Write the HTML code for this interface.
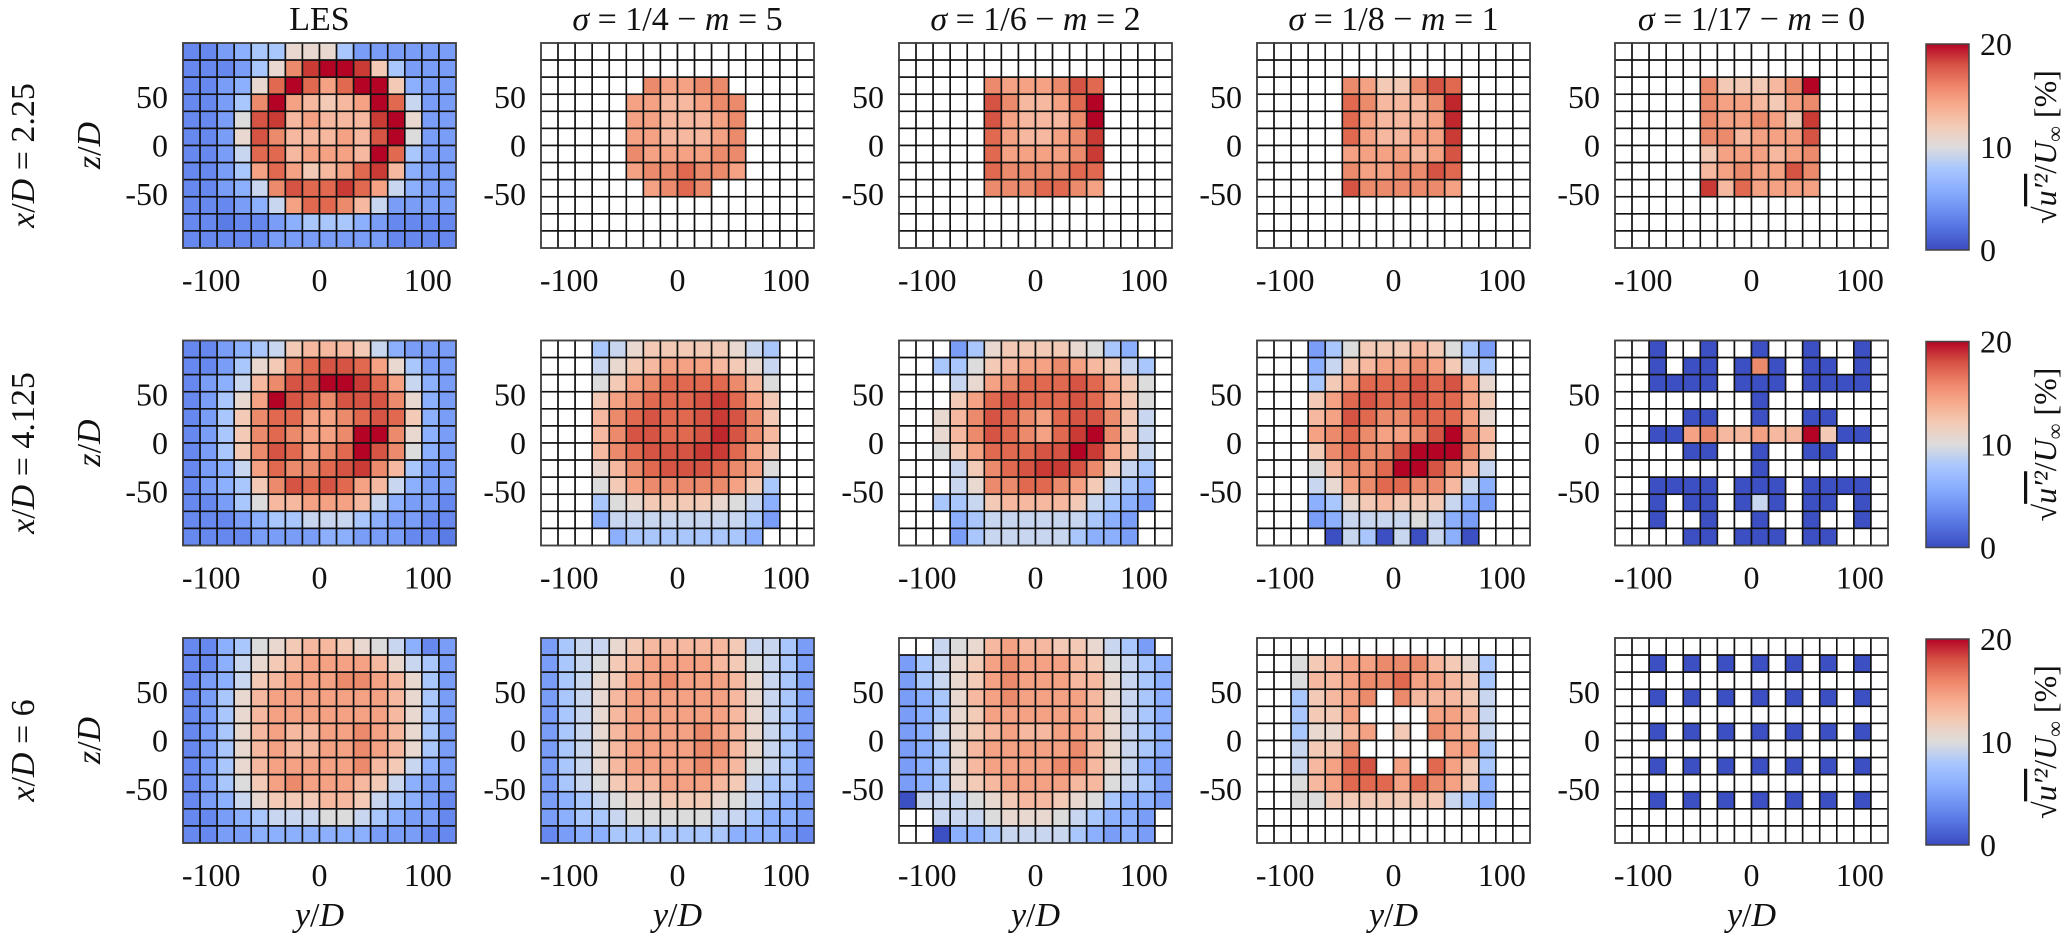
<!DOCTYPE html>
<html><head><meta charset="utf-8">
<style>
html,body{margin:0;padding:0;background:#fff;}
svg{display:block;font-family:"Liberation Serif",serif;}
</style></head>
<body>
<svg id="fig" width="2067" height="938" viewBox="0 0 2067 938" xmlns="http://www.w3.org/2000/svg">
<defs>
<linearGradient id="cmap" x1="0" y1="1" x2="0" y2="0">
<stop offset="0" stop-color="#3b4cc0"/><stop offset="0.1" stop-color="#5470de"/><stop offset="0.2" stop-color="#6f92f3"/>
<stop offset="0.3" stop-color="#8db0fe"/><stop offset="0.4" stop-color="#aac7fd"/><stop offset="0.5" stop-color="#dddcdc"/>
<stop offset="0.6" stop-color="#f2cbb7"/><stop offset="0.7" stop-color="#f7ac8e"/><stop offset="0.8" stop-color="#ee8468"/>
<stop offset="0.9" stop-color="#d65244"/><stop offset="1" stop-color="#b40426"/>
</linearGradient>
</defs>
<g id="plots"></g>
</svg>
<script>
// value code: '.' = no data, '0'..'9','A'..'K' = 0..20 %
const codes = "0123456789ABCDEFGHIJK";
const colTitles = ["LES","σ = 1/4 − m = 5","σ = 1/6 − m = 2","σ = 1/8 − m = 1","σ = 1/17 − m = 0"];
const rowLabels = ["2.25","4.125","6"];
const xTicks = [-100,0,100];
const zTicks = [50,0,-50];
const cbTicks = [0,10,20];

const r1_les = ["556788BBB8666666","55568BFIKKIC8666","5567BGKGEGKKC766","5568FKEDCDEKG966","556AHIDEDDDIKB66","556BHFDDDEDHKA66","5569GGDEEEDKG866","5568EGECDEGID766","55679FHGGIGE9766","555679EGGFD96666","5545567888765555","5555566666665555"];
const r1_s4 = ["................","................","......FEEFF.....",".....EEDDEFF....",".....EEDDDEF....",".....EEDDDEF....",".....FEEEEFF....",".....EFFGFFE....","......EFGF......","................","................","................"];
const r1_s6 = ["................","................",".....FEEEFHG....",".....HFDDEGK....",".....HEDDDFK....",".....GEDDEFI....",".....GEEEEFI....",".....GFFFFGG....",".....FFFGGFE....","................","................","................"];
const r1_s8 = ["................","................",".....FECCFHG....",".....GFDDDFJ....",".....GEDDDEJ....",".....GEDDEEI....",".....EEEEDEH....",".....FEEFFHG....",".....HFFFFFE....","................","................","................"];
const r1_s17 = ["................","................",".....FCCCDFK....",".....FEEDCEF....",".....FEEFECI....",".....FFDEEEH....",".....CEEEDEF....",".....DEFEEHF....",".....IDGEEEE....","................","................","................"];

const r2_les = ["556789CDDDC97666","5568BCFGHHGEB866","5679DFHHKKIGE976","568BEKHGFHHHFB76","568CFGGEEFGHGC76","568CFGFEEFKKFB76","568CFHGEFGKHFA76","5679EGFFGHIFD866","5678CFHGHGED9766","5568ADDEEED97665","5556788999876655","5555666677666554"];
const r2_s4 = ["...89BCCCCCB98..","...9BCDEEEDCB9..","...ACEFGGGGFDA..","...CEFGGGHIGEC..","...DFGHGGHIHFC..","...DFHHGGHJHFD..","...DFGHHHIIGEC..","...BDFGHHHGFEA..","...ACEFFFFFEC8..","...8ABCCCCBA97..","...79999999986..","....788888887..."];
const r2_s6 = ["...68BCCCCBA87..","..88ACDEEFEDC98.","...9BEFGGGHGECA.","...CEGHGGGHGECA.","..BDFHGFEGHHFC9.","..BDFHGFEGIKFC9.","..ACEGGGHHKIEC9.","...9CFGHIIHFC98.","...9BFFGGFEC987.","..889CDDDDC9876.","...78999999876..","...68999998776.."];
const r2_s8 = ["...68ACCCDCA86..","...79CDEEFEC98..","...8CEGGGHGHEB..","...CEGHGGHGGEC..","...DEHGFFGGGEB..","...EFGFEEFHKFD..","...CFGFFHKKKFC..","...ADFFGKKHFD9..","...9BEFGGFFD97..","...78BCDCCC976..","...679999A976...","....198191971..."];
const r2_s17 = ["..1..1..1..1..1.","..1.11.1F1.11.1.","..1111.111.1111.","........1.......","....11..1..11...","..11EFDDEDDKC11.","....11..1..11...","........1.......","..1111.111.1111.","..1.11.191.11.1.","..1..1..1..1..1.","....11.111.11..."];

const r3_les = ["5578ABCDDCBA9756","5579BCDEEEEDB986","5679CDEEEFFEDB86","568BDEEEEEEEDB86","568BDEEEEEEEDB86","568BDEDDEEFEDB86","568BDEDDEEFEDB86","568BDEEEEEFDC976","568ACEFEEEDC9766","5679BCCCDDC98765","55678999AA987665","5566777777766655"];
const r3_s4 = ["6899BCDDDDDC9986","689ACDEEEEDCA986","689BCEEFEEEDB986","689BDEEEEEEDB986","689BDEEEEEEDB986","689BDEEEEFEDB986","689BDEEEEFFDB986","689BDEEEEFEDA986","689ACDDEEEDC9886","6789ABBCCCBA9876","67889AAAAA998776","5677888888877765"];
const r3_s6 = ["..9ABDEDDCCB986.","689BCEFEEEDCA987","689BCEFEEEDDB987","678BDEFEEEEDB987","678BCEEEEEEDB987","679BCDEDDEEDB987","678BDEEEEEFDB987","678BDEEEEFFDB976","678BCDEEEEDDA986","1999ABCDDCBA8776","..999ABBBA98776.","..1778999987676."];
const r3_s8 = ["................","..ACDEEFFFDCB8..","..ADDEFFGEEDC8..","..8CDEF.FDDDC9..","..8CCE....EED9..","..8BBDE.C.FED9..","..9CCF.....EE8..","..9DEGH.E.GEC8..","..ADEGGGEGFEC7..","..AACCCCCCC987..","................","................"];
const r3_s17 = ["................","..1.1.1.1.1.1.1.","................","..1.1.1.1.1.1.1.","................","..1.1.1.1.1.1.1.","................","..1.1.1.1.1.1.1.","................","..1.1.1.1.1.1.1.","................","................"];

const panelData = [[r1_les,r1_s4,r1_s6,r1_s8,r1_s17],[r2_les,r2_s4,r2_s6,r2_s8,r2_s17],[r3_les,r3_s4,r3_s6,r3_s8,r3_s17]];

const palette = ["#3b4cc0","#3d50c3","#4a63d3","#5573e0","#5b7be5","#6788ee","#7a9df8","#8db0fe","#aac7fd","#c8d6f0","#dcdcdc","#e8d8cf","#f2cab5","#f6b89e","#f4a184","#ec8a6c","#e0694f","#d65444","#ca3b35","#c0272d","#b40426"];

const NS = "http://www.w3.org/2000/svg";
const root = document.getElementById("plots");
const PL = [183,541,899,1257,1615], PT = [43,340.5,638], PW = 273, PH = 205;
const yMin=-126, yMax=126, zMin=-105.7, zMax=105.7;
function mk(tag, attrs, parent){ const e=document.createElementNS(NS,tag); for(const k in attrs) e.setAttribute(k,attrs[k]); (parent||root).appendChild(e); return e; }
function sx(c,v){ return PL[c] + (v-yMin)/(yMax-yMin)*PW; }
function sy(r,v){ return PT[r] + (zMax-v)/(zMax-zMin)*PH; }
function mathText(parent, str){
  for(const ch of str){
    const t=document.createElementNS(NS,"tspan");
    if(/[a-zA-Zσ]/.test(ch)) t.setAttribute("font-style","italic");
    t.textContent=ch; parent.appendChild(t);
  }
}

for(let r=0;r<3;r++){
  for(let c=0;c<5;c++){
    const g = mk("g",{});
    
    
    const rows = panelData[r][c];
    const nR = rows.length, nC = rows[0].length;
    const dy = (yMax-yMin)/nC, dz = (zMax-zMin)/nR;
    for(let j=0;j<nR;j++){
      for(let i=0;i<nC;i++){
        const ch = rows[j][i] || ".";
        const k = codes.indexOf(ch);
        const x0 = sx(c, yMin+i*dy), x1 = sx(c, yMin+(i+1)*dy);
        const y0 = sy(r, zMax-j*dz), y1 = sy(r, zMax-(j+1)*dz);
        const rc = mk("rect",{x:x0,y:y0,width:x1-x0,height:y1-y0,fill:k>=0?palette[k]:"#ffffff",stroke:"#111","stroke-width":1.6},g);
        
        
      }
    }
    const fr = mk("rect",{x:PL[c],y:PT[r],width:PW,height:PH,fill:"none",stroke:"#444","stroke-width":1.5},g);
    
    
    for(const v of xTicks){
      const t = mk("text",{x:sx(c,v),y:PT[r]+PH+43,"font-size":32,"text-anchor":"middle",fill:"#111"},g);
      
      
      t.textContent = v<0 ? "-"+Math.abs(v) : String(v);
    }
    for(const v of zTicks){
      const t = mk("text",{x:PL[c]-15,y:sy(r,v)+11,"font-size":32,"text-anchor":"end",fill:"#111"},g);
      
      
      t.textContent = v<0 ? "-"+Math.abs(v) : String(v);
    }
    if(c===0){
      const t = mk("text",{x:0,y:0,"font-size":34,"text-anchor":"middle",fill:"#111",transform:`translate(100,${PT[r]+PH/2}) rotate(-90)`},g);
      
      
      mathText(t,"z/D");
      const rl = mk("text",{x:0,y:0,"font-size":34,"text-anchor":"middle",fill:"#111",transform:`translate(34,${PT[r]+PH/2+10}) rotate(-90)`},g);
      
      
      mathText(rl,"x/D = "+rowLabels[r]);
    }
    if(r===0){
      const t = mk("text",{x:PL[c]+PW/2,y:30,"font-size":34,"text-anchor":"middle",fill:"#111"},g);
      
      
      if(c===0) t.textContent = colTitles[c]; else mathText(t,colTitles[c]);
    }
    if(r===2){
      const t = mk("text",{x:PL[c]+PW/2,y:926,"font-size":34,"text-anchor":"middle",fill:"#111"},g);
      
      
      mathText(t,"y/D");
    }
  }
  const cg = mk("g",{});
  
  
  const cbX=1926, cbW=43, cbT=PT[r]+1, cbH=206;
  mk("rect",{x:cbX,y:cbT,width:cbW,height:cbH,fill:"url(#cmap)",stroke:"#444","stroke-width":1.5},cg);
  for(const v of cbTicks){
    const yy = cbT + cbH - v/20*cbH;
    const t = mk("text",{x:1980,y:yy+11,"font-size":32,fill:"#111"},cg);
    
    
    t.textContent = String(v);
  }
  const lab = mk("text",{x:0,y:0,"font-size":32,"text-anchor":"middle",fill:"#111",transform:`translate(2056,${cbT+cbH/2}) rotate(-90)`},cg);
  
  
  const s1=document.createElementNS(NS,"tspan"); s1.textContent="√"; lab.appendChild(s1);
  const s2=document.createElementNS(NS,"tspan"); s2.setAttribute("font-style","italic"); s2.setAttribute("text-decoration","overline"); s2.textContent="u′²"; lab.appendChild(s2);
  const s3=document.createElementNS(NS,"tspan"); s3.textContent="/"; lab.appendChild(s3);
  const s4=document.createElementNS(NS,"tspan"); s4.setAttribute("font-style","italic"); s4.textContent="U"; lab.appendChild(s4);
  const s5=document.createElementNS(NS,"tspan"); s5.setAttribute("font-size","22"); s5.setAttribute("dy","6"); s5.textContent="∞"; lab.appendChild(s5);
  const s6=document.createElementNS(NS,"tspan"); s6.setAttribute("dy","-6"); s6.textContent=" [%]"; lab.appendChild(s6);
}
</script>
</body></html>
